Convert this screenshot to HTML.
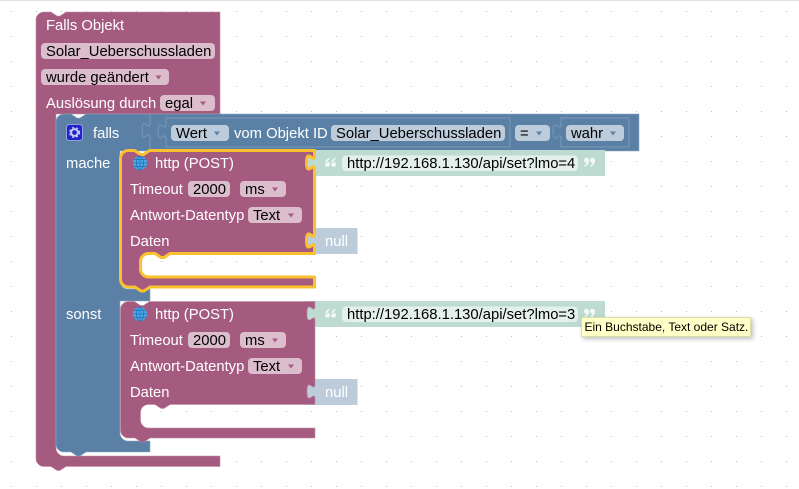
<!DOCTYPE html>
<html><head><meta charset="utf-8"><style>
html,body{margin:0;padding:0;background:#fff;width:799px;height:489px;overflow:hidden}
svg{display:block}
text{font-family:"Liberation Sans",Arial,sans-serif;font-size:14.8px}
.w{fill:#fff}.k{fill:#000}
</style></head><body>
<svg width="799" height="489" viewBox="0 0 799 489" xmlns="http://www.w3.org/2000/svg">
<defs>
<pattern id="g" x="11" y="11" width="25" height="25" patternUnits="userSpaceOnUse"><rect x="0" y="0" width="1" height="1" fill="#bbb"/></pattern>
<filter id="s" x="-10%" y="-30%" width="120%" height="170%"><feDropShadow dx="2" dy="2" stdDeviation="2.5" flood-color="#000" flood-opacity=".25"/></filter>
</defs>
<rect width="799" height="489" fill="#fff"/>
<rect width="799" height="489" fill="url(#g)"/>
<rect width="799" height="1" fill="#e0e0e0"/>

<!-- outer block -->
<path d="M36 20a8 8 0 0 1 8-8h7l6 4h3l6-4H220V114H56V448a8 8 0 0 0 8 8H220V466.500H66l-6 4h-3l-6-4H44a8 8 0 0 1-8-8Z" fill="#a55b80" stroke="#c08da6" stroke-width=".6"/>
<text class="w" x="46" y="30">Falls Objekt</text>
<rect x="41" y="43" width="174" height="16" rx="4" fill="#dbbdcc"/><text class="k" x="46" y="56">Solar_Ueberschussladen</text>
<rect x="41" y="69" width="128" height="16" rx="4" fill="#dbbdcc"/><text class="k" x="46" y="82">wurde geändert</text>
<path d="M155.500 75.500h6l-3 4Z" fill="#a55b80"/>
<text class="w" x="46" y="108">Auslösung durch</text>
<rect x="160" y="95" width="55" height="16" rx="4" fill="#dbbdcc"/><text class="k" x="165" y="108">egal</text>
<path d="M200 101.500h6l-3 4Z" fill="#a55b80"/>

<!-- blue if block -->
<path d="M56 122a8 8 0 0 1 8-8h7l6 4h3l6-4H639V151H120V281a8 8 0 0 0 8 8H150V301H120V433a8 8 0 0 0 8 8H150V452H86l-6 4h-3l-6-4H64a8 8 0 0 1-8-8Z" fill="#5b80a5" stroke="#8da6c0" stroke-width=".6"/>
<path d="M150 114V123c0 10-8-8-8 7.500s8-2.500 8 7.500V151" fill="none" stroke="#7c99b7" stroke-width="1"/>
<path d="M510 118H166V124c0 10-8-8-8 7.500s8-2.500 8 7.500V147H510Z" fill="none" stroke="#7c99b7" stroke-width="1"/>
<path d="M629 118H561V124c0 10-8-8-8 7.500s8-2.500 8 7.500V147H629Z" fill="none" stroke="#7c99b7" stroke-width="1"/>
<rect x="66.500" y="124.500" width="16" height="16" rx="3" fill="#2222cc" stroke="#aab4e0" stroke-width=".8"/>
<circle cx="74.500" cy="132.500" r="3.400" fill="none" stroke="#c5cff5" stroke-width="2"/>
<circle cx="74.500" cy="132.500" r="5" fill="none" stroke="#c5cff5" stroke-width="1.200" stroke-dasharray="2 2.190"/>
<text class="w" x="93" y="138">falls</text>
<rect x="171" y="125" width="58" height="16" rx="4" fill="#bdccdb"/><text class="k" x="176" y="138">Wert</text>
<path d="M214 131.500h6l-3 4Z" fill="#5b80a5"/>
<text class="w" x="234" y="138">vom Objekt ID</text>
<rect x="331" y="125" width="174" height="16" rx="4" fill="#bdccdb"/><text class="k" x="336" y="138">Solar_Ueberschussladen</text>
<rect x="515" y="125" width="35" height="16" rx="4" fill="#bdccdb"/><text class="k" x="520" y="138">=</text>
<path d="M536 131.500h6l-3 4Z" fill="#5b80a5"/>
<rect x="566" y="125" width="58" height="16" rx="4" fill="#bdccdb"/><text class="k" x="571" y="138">wahr</text>
<path d="M610 131.500h6l-3 4Z" fill="#5b80a5"/>
<text class="w" x="66" y="168">mache</text>
<text class="w" x="66" y="319">sonst</text>

<!-- value blocks -->
<rect x="304" y="150" width="301" height="26" fill="#bddbd1"/>
<rect x="342" y="155.500" width="236" height="15.500" rx="4" fill="#e4f0ec"/>
<text class="k" x="347" y="168">http://192.168.1.130/api/set?lmo=4</text>
<path d="M325 164.300a2.500 2.500 0 1 0 5 0a2.500 2.500 0 1 0-5 0c0-3 1.500-5.500 4.500-6.500v1.500c-1.500.6-2 1.800-2 3ZM331 164.300a2.500 2.500 0 1 0 5 0a2.500 2.500 0 1 0-5 0c0-3 1.500-5.500 4.500-6.500v1.500c-1.500.6-2 1.800-2 3Z" fill="#f2f8f6"/>
<path d="M584 160.200a2.500 2.500 0 1 1 5 0a2.500 2.500 0 1 1-5 0M589 160.200c0 3-1.500 5.500-4.500 6.500v-1.500c1.500-.6 2-1.800 2-3ZM590 160.200a2.500 2.500 0 1 1 5 0a2.500 2.500 0 1 1-5 0M595 160.200c0 3-1.500 5.500-4.500 6.500v-1.500c1.500-.6 2-1.800 2-3Z" fill="#f2f8f6"/>
<rect x="304" y="228" width="53.500" height="26" fill="#bdccdb"/><text class="w" x="325" y="246">null</text>

<rect x="304" y="301" width="301" height="26" fill="#bddbd1"/>
<rect x="342" y="306.500" width="236" height="15.500" rx="4" fill="#e4f0ec"/>
<text class="k" x="347" y="319">http://192.168.1.130/api/set?lmo=3</text>
<path d="M325 315.300a2.500 2.500 0 1 0 5 0a2.500 2.500 0 1 0-5 0c0-3 1.500-5.500 4.500-6.500v1.500c-1.500.6-2 1.800-2 3ZM331 315.300a2.500 2.500 0 1 0 5 0a2.500 2.500 0 1 0-5 0c0-3 1.500-5.500 4.500-6.500v1.500c-1.500.6-2 1.800-2 3Z" fill="#f2f8f6"/>
<path d="M584 311.200a2.500 2.500 0 1 1 5 0a2.500 2.500 0 1 1-5 0M589 311.200c0 3-1.500 5.500-4.500 6.500v-1.500c1.500-.6 2-1.800 2-3ZM590 311.200a2.500 2.500 0 1 1 5 0a2.500 2.500 0 1 1-5 0M595 311.200c0 3-1.500 5.500-4.500 6.500v-1.500c1.500-.6 2-1.800 2-3Z" fill="#f2f8f6"/>
<rect x="304" y="379" width="53.500" height="26" fill="#bdccdb"/><text class="w" x="325" y="397">null</text>

<!-- http POST selected -->
<path d="M120.500 158.500a8 8 0 0 1 8-8h6l6 4h3l6-4H314.500V155c0 10-8-8-8 7.500s8-2.500 8 7.500V233c0 10-8-8-8 7.500s8-2.500 8 7.500V253.500H170l-6 4h-3l-6-4H148.500a8 8 0 0 0-8 8V269a8 8 0 0 0 8 8H314.500V287H150l-6 4h-3l-6-4H128.500a8 8 0 0 1-8-8Z" fill="#a55b80" stroke="#fbc02d" stroke-width="3" stroke-linejoin="round"/>
<circle cx="140" cy="163" r="7" fill="#4aa8e8"/><path d="M133 163h14M134 159.500h12M134 166.500h12M140 156v14" stroke="#1f6fb0" stroke-width=".7" fill="none"/><ellipse cx="140" cy="163" rx="3.500" ry="7" fill="none" stroke="#1f6fb0" stroke-width=".7"/>
<text class="w" x="155" y="168">http (POST)</text>
<text class="w" x="130" y="194">Timeout</text>
<rect x="188" y="181" width="42" height="16" rx="4" fill="#dbbdcc"/><text class="k" x="193" y="194">2000</text>
<rect x="240" y="181" width="46" height="16" rx="4" fill="#dbbdcc"/><text class="k" x="245" y="194">ms</text>
<path d="M272 187.500h6l-3 4Z" fill="#a55b80"/>
<text class="w" x="130" y="220">Antwort-Datentyp</text>
<rect x="248" y="207" width="54" height="16" rx="4" fill="#dbbdcc"/><text class="k" x="253" y="220">Text</text>
<path d="M288 213.500h6l-3 4Z" fill="#a55b80"/>
<text class="w" x="130" y="246">Daten</text>

<!-- http POST 2 -->
<path d="M120.500 309.500a8 8 0 0 1 8-8h6l6 4h3l6-4H315V306c0 10-8-8-8 7.500s8-2.500 8 7.500V384c0 10-8-8-8 7.500s8-2.500 8 7.500V404.500H170l-6 4h-3l-6-4H148.500a8 8 0 0 0-8 8V420a8 8 0 0 0 8 8H315V438H150l-6 4h-3l-6-4H128.500a8 8 0 0 1-8-8Z" fill="#a55b80" stroke="#c08da6" stroke-width=".6"/>
<circle cx="140" cy="314" r="7" fill="#4aa8e8"/><path d="M133 314h14M134 310.500h12M134 317.500h12M140 307v14" stroke="#1f6fb0" stroke-width=".7" fill="none"/><ellipse cx="140" cy="314" rx="3.500" ry="7" fill="none" stroke="#1f6fb0" stroke-width=".7"/>
<text class="w" x="155" y="319">http (POST)</text>
<text class="w" x="130" y="345">Timeout</text>
<rect x="188" y="332" width="42" height="16" rx="4" fill="#dbbdcc"/><text class="k" x="193" y="345">2000</text>
<rect x="240" y="332" width="46" height="16" rx="4" fill="#dbbdcc"/><text class="k" x="245" y="345">ms</text>
<path d="M272 338.500h6l-3 4Z" fill="#a55b80"/>
<text class="w" x="130" y="371">Antwort-Datentyp</text>
<rect x="248" y="358" width="54" height="16" rx="4" fill="#dbbdcc"/><text class="k" x="253" y="371">Text</text>
<path d="M288 364.500h6l-3 4Z" fill="#a55b80"/>
<text class="w" x="130" y="397">Daten</text>

<!-- tooltip -->
<rect x="581.500" y="317.500" width="169" height="19" fill="#ffffc7" stroke="#ddddaa" stroke-width="1" filter="url(#s)"/>
<text x="584.500" y="331" style="font-size:12px" fill="#000">Ein Buchstabe, Text oder Satz.</text>
</svg>
</body></html>
